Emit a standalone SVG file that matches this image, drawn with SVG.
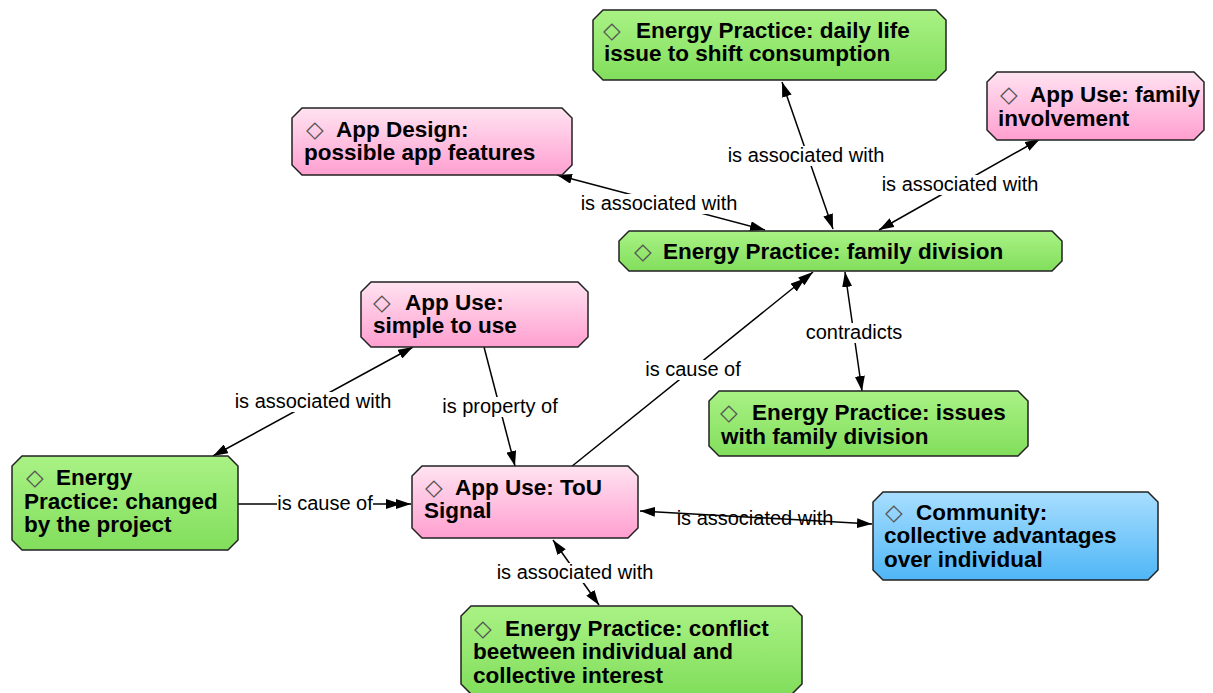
<svg xmlns="http://www.w3.org/2000/svg" width="1213" height="693" viewBox="0 0 1213 693">
<defs>
<linearGradient id="gGreen" x1="0" y1="0" x2="0" y2="1"><stop offset="0" stop-color="#a9f285"/><stop offset="1" stop-color="#82de5c"/></linearGradient>
<linearGradient id="gPink" x1="0" y1="0" x2="0" y2="1"><stop offset="0" stop-color="#ffe3f1"/><stop offset="1" stop-color="#ff9fd0"/></linearGradient>
<linearGradient id="gBlue" x1="0" y1="0" x2="0" y2="1"><stop offset="0" stop-color="#a8deff"/><stop offset="1" stop-color="#4fb6f6"/></linearGradient>
<marker id="arr" viewBox="0 0 15 10" refX="15" refY="5" markerWidth="15" markerHeight="10" markerUnits="userSpaceOnUse" orient="auto-start-reverse"><path d="M0,0 L15,5 L0,10 z" fill="#000"/></marker>
<marker id="arr2" viewBox="0 0 25 10" refX="25" refY="5" markerWidth="25" markerHeight="10" markerUnits="userSpaceOnUse" orient="auto"><path d="M0,0 L15,5 L0,10 z M10,0 L25,5 L10,10 z" fill="#000"/></marker>
<style>
.node path{stroke:#222;stroke-width:1.5}
.g{fill:url(#gGreen)} .p{fill:url(#gPink)} .b{fill:url(#gBlue)}
.t{font-family:"Liberation Sans",Arial,sans-serif;font-weight:bold;font-size:22.5px;fill:#000}
.d{font-family:"DejaVu Sans",sans-serif;font-weight:normal;font-size:23px;fill:#555}
.edge{stroke:#000;stroke-width:1.5;fill:none}
.both{marker-start:url(#arr);marker-end:url(#arr)}
.one{marker-end:url(#arr)}
.two{marker-end:url(#arr2)}
.lbl{font-family:"Liberation Sans",Arial,sans-serif;font-size:20px;fill:#000;text-anchor:middle}
.bg{fill:#fff}
</style>
</defs>
<g id="connectors">
<line class="edge both" x1="557" y1="175" x2="765" y2="230"/>
<line class="edge both" x1="782" y1="82" x2="833" y2="229"/>
<line class="edge both" x1="1040" y1="139" x2="879" y2="230"/>
<line class="edge both" x1="845" y1="272" x2="862" y2="391"/>
<line class="edge two" x1="571" y1="467" x2="813" y2="272"/>
<line class="edge both" x1="413" y1="347" x2="213" y2="456"/>
<line class="edge one" x1="484" y1="347" x2="515" y2="466"/>
<line class="edge two" x1="238" y1="504" x2="411" y2="504"/>
<line class="edge both" x1="640" y1="511" x2="872" y2="524"/>
<line class="edge both" x1="553" y1="540" x2="599" y2="605"/>
<rect class="bg" x="578" y="194" width="162" height="20"/>
<rect class="bg" x="725" y="146" width="162" height="20"/>
<rect class="bg" x="879" y="175" width="162" height="20"/>
<rect class="bg" x="803" y="323" width="102" height="20"/>
<rect class="bg" x="645" y="360" width="96" height="20"/>
<rect class="bg" x="232" y="392" width="162" height="20"/>
<rect class="bg" x="440" y="397" width="120" height="20"/>
<rect class="bg" x="277" y="494" width="96" height="20"/>
<rect class="bg" x="494" y="563" width="162" height="20"/>
<text class="lbl" x="659" y="210">is associated with</text>
<text class="lbl" x="806" y="162">is associated with</text>
<text class="lbl" x="960" y="191">is associated with</text>
<text class="lbl" x="854" y="339">contradicts</text>
<text class="lbl" x="693" y="376">is cause of</text>
<text class="lbl" x="313" y="408">is associated with</text>
<text class="lbl" x="500" y="413">is property of</text>
<text class="lbl" x="325" y="510">is cause of</text>
<text class="lbl" x="755" y="525">is associated with</text>
<text class="lbl" x="575" y="579">is associated with</text>
</g>
<g id="n1" class="node">
<path class="g" d="M603,10 H936 L946,20 V70 L936,80 H603 L593,70 V20 Z"/>
<text class="d" x="603" y="38">◇</text>
<text class="t" x="636" y="38">Energy Practice: daily life</text>
<text class="t" x="604" y="61">issue to shift consumption</text>
</g>
<g id="n2" class="node">
<path class="p" d="M997,72 H1194 L1204,82 V130 L1194,140 H997 L987,130 V82 Z"/>
<text class="d" x="1000" y="102">◇</text>
<text class="t" x="1030" y="102">App Use: family</text>
<text class="t" x="998" y="126">involvement</text>
</g>
<g id="n3" class="node">
<path class="p" d="M302,108 H562 L572,118 V165 L562,175 H302 L292,165 V118 Z"/>
<text class="d" x="306" y="137">◇</text>
<text class="t" x="336" y="137">App Design:</text>
<text class="t" x="304" y="160">possible app features</text>
</g>
<g id="n4" class="node">
<path class="g" d="M629,231 H1052 L1062,241 V261 L1052,271 H629 L619,261 V241 Z"/>
<text class="d" x="634" y="259">◇</text>
<text class="t" x="663" y="259">Energy Practice: family division</text>
</g>
<g id="n5" class="node">
<path class="p" d="M371,282 H578 L588,292 V337 L578,347 H371 L361,337 V292 Z"/>
<text class="d" x="373" y="310">◇</text>
<text class="t" x="405" y="310">App Use:</text>
<text class="t" x="373" y="333">simple to use</text>
</g>
<g id="n6" class="node">
<path class="g" d="M719,391 H1018 L1028,401 V446 L1018,456 H719 L709,446 V401 Z"/>
<text class="d" x="720" y="420">◇</text>
<text class="t" x="752" y="420">Energy Practice: issues</text>
<text class="t" x="721" y="444">with family division</text>
</g>
<g id="n7" class="node">
<path class="g" d="M22,456 H228 L238,466 V540 L228,550 H22 L12,540 V466 Z"/>
<text class="d" x="26" y="485">◇</text>
<text class="t" x="56" y="485">Energy</text>
<text class="t" x="24" y="509">Practice: changed</text>
<text class="t" x="24" y="532">by the project</text>
</g>
<g id="n8" class="node">
<path class="p" d="M422,466 H628 L638,476 V528 L628,538 H422 L412,528 V476 Z"/>
<text class="d" x="425" y="495">◇</text>
<text class="t" x="455" y="495">App Use: ToU</text>
<text class="t" x="424" y="518">Signal</text>
</g>
<g id="n9" class="node">
<path class="b" d="M883,492 H1148 L1158,502 V570 L1148,580 H883 L873,570 V502 Z"/>
<text class="d" x="885" y="520">◇</text>
<text class="t" x="916" y="520">Community:</text>
<text class="t" x="884" y="543">collective advantages</text>
<text class="t" x="884" y="567">over individual</text>
</g>
<g id="n10" class="node">
<path class="g" d="M471,606 H792 L802,616 V684 L792,694 H471 L461,684 V616 Z"/>
<text class="d" x="474" y="636">◇</text>
<text class="t" x="505" y="636">Energy Practice: conflict</text>
<text class="t" x="473" y="659">beetween individual and</text>
<text class="t" x="473" y="683">collective interest</text>
</g>
</svg>
